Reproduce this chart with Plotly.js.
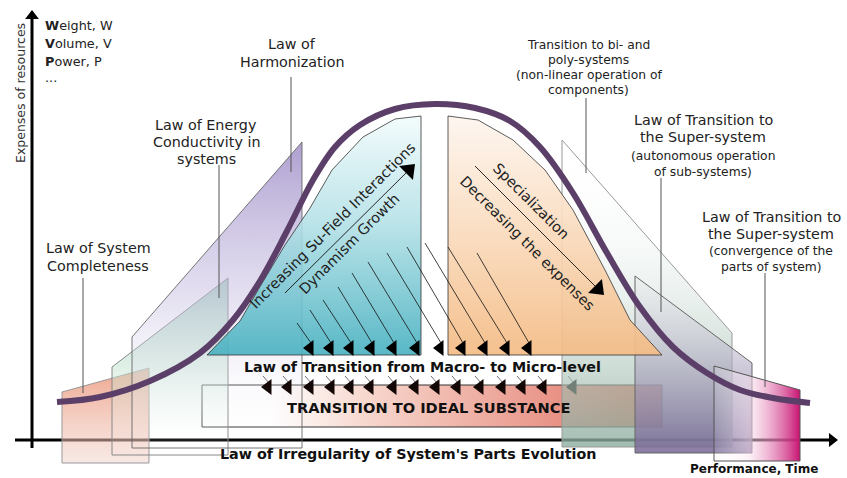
<!DOCTYPE html>
<html><head><meta charset="utf-8">
<script src="https://cdn.plot.ly/plotly-3.0.1.min.js"></script>
<style>html,body{margin:0;padding:0;background:#fff}#chart{width:847px;height:478px}</style>
</head><body><div id="chart"></div>
<script>
// ---- S-curve: expenses of resources vs. performance / time ----
const curveX = [57,100,150,200,233,260,287,313,335,360,395,435,475,510,540,573,607,640,673,707,740,773,810];
const curveY = [402,397,381,353,320,281,231,180,147,125,109,104,108,121,147,193,253,307,347,373,390,398,403];

// ---- law regions (polygon outlines) ----
const completenessX = [62,149,149,62];      const completenessY = [392,368,463,463];
const energyX = [112,228,228,112];          const energyY = [367,278,455,455];
const harmonizationX = [132,302,302,132];   const harmonizationY = [337,142,448,448];
const suFieldX = [207,240,258,285,310,332,363,395,421,421]; const suFieldY = [355,321,290,245,208,170,137,119,116,355];
const specialX = [448,478,513,545,573,605,630,662,448];     const specialY = [116,120,140,170,210,270,320,355,355];
const polyX = [562,732,732,562];            const polyY = [140,333,447,447];
const autonomousX = [635,752,752,635];      const autonomousY = [276,363,453,453];
const convergenceX = [714,800,800,714];     const convergenceY = [366,390,461,461];
const idealX = [202,662,662,202];           const idealY = [385,385,427,427];

// ---- macro -> micro arrows ----
const macroHeadX = [310,330,350,371,393,416,440,462,484,506,528];
const macroHeadY = [348,348,348,348,348,348,348,348,348,348,348];
const macroTailX = [297,310,323,338,352,368,387,407,425,448,477];
const macroTailY = [323,310,300,287,273,262,253,247,243,247,253];
const idealHeadX = [268,288,310,331,350,370,393,415,436,457,480,502,522,543,573];
const idealHeadY = [387,387,387,387,387,387,387,387,387,387,387,387,387,387,387];

// ---- big diagonal arrows ----
const dynArrowX = [285,409];  const dynArrowY = [293,170];
const specArrowX = [475,598]; const specArrowY = [166,289];

// ---- pointer lines ----
const pointerX = [291,219,83,586,661,765];
const pointerTop = [77,165,278,98,178,273];
const pointerBottom = [172,298,393,173,312,387];

// ---- axes ----
const xAxisX = [15,832]; const xAxisY = [440,440];
const yAxisX = [32,32];  const yAxisY = [448,16];

// ---- labels ----
const labelText = ['Law of','Harmonization','Law of Energy','Conductivity in','systems','Law of System','Completeness',
 'Transition to bi- and','poly-systems','(non-linear operation of','components)',
 'Law of Transition to','the Super-system','(autonomous operation','of sub-systems)',
 'Law of Transition to','the Super-system','(convergence of the','parts of system)'];
const labelX = [292,292,206,206,206,98,98,588,588,589,588,703,703,703,703,771,771,771,771];
const labelY = [44,62,125,142,159,248,266,45,60,75,90,120,137,156,172,217,234,251,267];
const labelSize = [14.3,14.3,14.3,14.3,14.3,14.3,14.3,12.3,12.3,12.3,12.3,14.3,14.3,12.3,12.3,14.3,14.3,12.3,12.3];

const boldText = ['Law of Transition from Macro- to Micro-level','TRANSITION TO IDEAL SUBSTANCE',"Law of Irregularity of System's Parts Evolution",'Performance, Time'];
const boldX = [422,428,408,754];
const boldY = [367,407,454,469];
const boldSize = [14.3,14.6,14.3,12];

const resources = ['<b>W</b>eight, W','<b>V</b>olume, V','<b>P</b>ower, P','...'];
const resourcesY = [25,43,61,77];

const slantText = ['Increasing Su-Field Interactions','Dynamism Growth','Specialization','Decreasing the expenses'];
const slantX = [332,349,531,527];
const slantY = [226,244,201,243];
const slantAngle = [-45,-45,45,45];

// ---------- build ----------
const FONT = 'DejaVu Sans, Verdana, sans-serif';
function poly(xs, ys, grad, lc, lw) {
  return {x: xs.concat([xs[0]]), y: ys.concat([ys[0]]), mode: 'lines', fill: 'toself',
    fillgradient: grad, line: {color: lc, width: lw}, hoverinfo: 'skip', showlegend: false};
}
function vgrad(a, b, cs) { return {type: 'vertical', start: a, stop: b, colorscale: cs}; }
function hgrad(a, b, cs) { return {type: 'horizontal', start: a, stop: b, colorscale: cs}; }

const traces = [];
// axes
traces.push({x: xAxisX, y: xAxisY, mode: 'lines', line: {color: '#000', width: 3}, hoverinfo: 'skip', showlegend: false});
traces.push({x: yAxisX, y: yAxisY, mode: 'lines', line: {color: '#000', width: 3}, hoverinfo: 'skip', showlegend: false});
traces.push({x: [xAxisX[1]], y: [xAxisY[1]], mode: 'markers', marker: {symbol: 'triangle-right', size: 12, color: '#000'}, hoverinfo: 'skip', showlegend: false});
traces.push({x: [yAxisX[1]], y: [yAxisY[1]], mode: 'markers', marker: {symbol: 'triangle-up', size: 12, color: '#000'}, hoverinfo: 'skip', showlegend: false});

// ideal substance bar
traces.push(poly(idealX, idealY, hgrad(202, 662, [[0,'#ffffff'],[0.15,'#ffffff'],[0.38,'#f6d3c9'],[0.75,'#e9968a'],[1,'#e06a52']]), '#333', 1));

// left regions
traces.push(poly(completenessX, completenessY, vgrad(368, 463, [[0,'rgba(236,150,122,0.85)'],[1,'rgba(240,205,195,0.45)']]), '#999', 1));
traces.push(poly(energyX, energyY, vgrad(278, 455, [[0,'rgba(150,205,178,0.8)'],[0.5,'rgba(190,225,205,0.5)'],[1,'rgba(255,255,255,0)']]), '#888', 1));
traces.push(poly(harmonizationX, harmonizationY, vgrad(142, 448, [[0,'rgba(160,142,200,0.85)'],[0.5,'rgba(200,192,226,0.5)'],[1,'rgba(255,255,255,0)']]), '#666', 0.9));

// ideal-substance arrows
const ilx = [], ily = [];
for (let i = 0; i < idealHeadX.length; i++) { ilx.push(idealHeadX[i] - 5, idealHeadX[i] + 1, null); ily.push(idealHeadY[i] - 11, idealHeadY[i] - 4, null); }
traces.push({x: ilx, y: ily, mode: 'lines', line: {color: '#333', width: 0.7}, hoverinfo: 'skip', showlegend: false});
traces.push({x: idealHeadX, y: idealHeadY, mode: 'markers', marker: {symbol: 'triangle-left', size: 14, color: '#140806'}, hoverinfo: 'skip', showlegend: false});

// right regions
traces.push(poly(polyX, polyY, vgrad(140, 447, [[0,'rgba(255,255,255,0)'],[0.35,'rgba(225,235,230,0.3)'],[1,'rgba(140,172,158,0.8)']]), '#999', 1));
traces.push(poly(autonomousX, autonomousY, vgrad(276, 453, [[0,'rgba(230,232,236,0.3)'],[1,'rgba(118,100,148,0.85)']]), '#666', 1));
traces.push(poly(convergenceX, convergenceY, hgrad(714, 800, [[0,'rgba(255,255,255,0.1)'],[0.4,'rgba(250,228,240,0.5)'],[1,'rgba(200,20,115,1)']]), '#555', 1));

// domes
traces.push(poly(suFieldX, suFieldY, vgrad(116, 355, [[0,'rgba(242,251,252,0.9)'],[0.45,'rgba(178,224,230,0.88)'],[1,'rgba(70,176,192,0.9)']]), '#333', 0.8));
traces.push(poly(specialX, specialY, vgrad(116, 355, [[0,'rgba(253,245,238,0.9)'],[0.45,'rgba(250,220,191,0.9)'],[1,'rgba(244,187,132,0.92)']]), '#333', 0.8));

// macro->micro arrows
const mlx = [], mly = [];
for (let i = 0; i < macroHeadX.length; i++) { mlx.push(macroTailX[i], macroHeadX[i] + 1, null); mly.push(macroTailY[i], macroHeadY[i] - 5, null); }
traces.push({x: mlx, y: mly, mode: 'lines', line: {color: '#111', width: 0.8}, hoverinfo: 'skip', showlegend: false});
traces.push({x: macroHeadX, y: macroHeadY, mode: 'markers', marker: {symbol: 'triangle-left', size: 14, color: '#000'}, hoverinfo: 'skip', showlegend: false});

// big arrows
traces.push({x: dynArrowX, y: dynArrowY, mode: 'lines', line: {color: '#111', width: 0.9}, hoverinfo: 'skip', showlegend: false});
traces.push({x: [dynArrowX[1]], y: [dynArrowY[1]], mode: 'markers', marker: {symbol: 'triangle-up', size: 17, angle: 45, color: '#000'}, hoverinfo: 'skip', showlegend: false});
traces.push({x: specArrowX, y: specArrowY, mode: 'lines', line: {color: '#111', width: 0.9}, hoverinfo: 'skip', showlegend: false});
traces.push({x: [specArrowX[1]], y: [specArrowY[1]], mode: 'markers', marker: {symbol: 'triangle-up', size: 17, angle: 135, color: '#000'}, hoverinfo: 'skip', showlegend: false});

// pointer lines
const plx = [], ply = [];
for (let i = 0; i < pointerX.length; i++) { plx.push(pointerX[i], pointerX[i], null); ply.push(pointerTop[i], pointerBottom[i], null); }
traces.push({x: plx, y: ply, mode: 'lines', line: {color: '#555', width: 1}, hoverinfo: 'skip', showlegend: false});

// curve
traces.push({x: curveX, y: curveY, mode: 'lines', line: {color: '#5b3f69', width: 6, shape: 'spline', smoothing: 1}, hoverinfo: 'skip', showlegend: false});

// annotations
const ann = [];
for (let i = 0; i < labelText.length; i++) ann.push({x: labelX[i], y: labelY[i], text: labelText[i], showarrow: false, font: {family: FONT, size: labelSize[i], color: '#222'}});
for (let i = 0; i < boldText.length; i++) ann.push({x: boldX[i], y: boldY[i], text: '<b>' + boldText[i] + '</b>', showarrow: false, font: {family: FONT, size: boldSize[i], color: '#111'}});
for (let i = 0; i < resources.length; i++) ann.push({x: 43, y: resourcesY[i], xanchor: 'left', text: resources[i], showarrow: false, font: {family: FONT, size: 12.8, color: '#222'}});
for (let i = 0; i < slantText.length; i++) ann.push({x: slantX[i], y: slantY[i], text: slantText[i], textangle: slantAngle[i], showarrow: false, font: {family: FONT, size: 14.5, color: '#222'}});
ann.push({x: 20, y: 93, text: 'Expenses of resources', textangle: -90, showarrow: false, font: {family: FONT, size: 12.5, color: '#333'}});
ann.forEach(a => { a.xref = 'x'; a.yref = 'y'; });

Plotly.newPlot('chart', traces, {
  width: 847, height: 478, margin: {l: 0, r: 0, t: 0, b: 0},
  paper_bgcolor: '#fff', plot_bgcolor: '#fff',
  xaxis: {range: [0, 847], visible: false, fixedrange: true},
  yaxis: {range: [478, 0], visible: false, fixedrange: true},
  annotations: ann, showlegend: false
}, {staticPlot: true});
</script></body></html>
